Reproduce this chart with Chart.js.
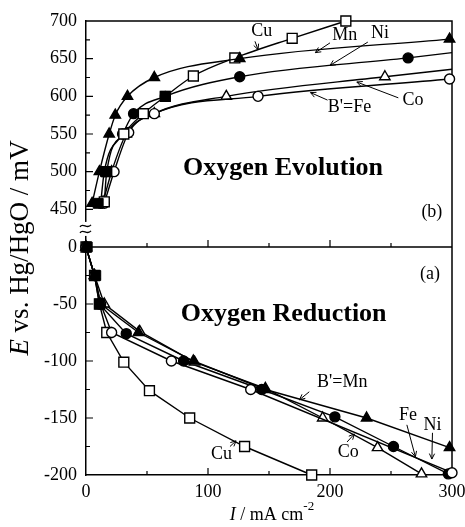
<!DOCTYPE html>
<html>
<head>
<meta charset="utf-8">
<script src="https://cdn.jsdelivr.net/npm/chart.js@4/dist/chart.umd.min.js"></script>
<style>
  html, body { margin: 0; padding: 0; background: #fff; }
  #wrap { width: 465px; height: 527px; }
</style>
</head>
<body>
<div id="wrap"><canvas id="chart" width="465" height="527"></canvas></div>
<script>
// values: current density I (mA cm-2) against E (mV vs Hg/HgO)
var xTicks = [0, 100, 200, 300];
var evoTicks = [450, 500, 550, 600, 650, 700];
var redTicks = [0, -50, -100, -150, -200];

// (b) oxygen evolution
var evoMnI = [5, 11, 19, 24, 34, 56, 126, 298];
var evoMnE = [458, 500, 550, 575, 600, 625, 650, 676];
var evoCuI = [15, 17, 31, 47, 65, 88, 122, 169, 213];
var evoCuE = [460, 500, 550, 577, 600, 627, 651, 677, 700];
var evoNiI = [12, 15, 30, 39, 65, 126, 264, 300];
var evoNiE = [458, 500, 550, 577, 600, 626, 651, 658];
var evoFeI = [15, 23, 35, 56, 141, 298];
var evoFeE = [458, 500, 552, 577, 600, 623];
var evoCoI = [14, 21, 33, 56, 115, 245, 300];
var evoCoE = [460, 500, 550, 577, 600, 626, 636];
var evoSqI = [10, 16, 65];
var evoSqE = [458, 500, 600];

// (a) oxygen reduction
var redMnI = [0, 7, 12, 43, 88, 147, 230, 298];
var redMnE = [0, -25, -50, -75, -100, -125, -150, -176];
var redFeI = [0, 7, 12, 21, 70, 135, 300];
var redFeE = [0, -25, -50, -75, -100, -125, -198];
var redCoI = [0, 7, 15, 44, 89, 147, 194, 239, 275];
var redCoE = [0, -25, -50, -74, -101, -124, -150, -176, -199];
var redNiI = [0, 7, 11, 33, 80, 144, 204, 252, 297];
var redNiE = [0, -25, -50, -76, -100, -125, -149, -175, -199];
var redCuI = [0, 7, 11, 17, 31, 52, 85, 130, 185];
var redCuE = [0, -25, -50, -75, -101, -126, -150, -175, -200];
var redSqI = [1, 8, 11];
var redSqE = [0, -25, -50];

var SERIF = '"Liberation Serif", "Times New Roman", serif';
var markerSize = { circle: 5, triangle: 6, rect: 7 };

function pts(xs, ys) {
  return xs.map(function (v, i) { return { x: v, y: ys[i] }; });
}

function series(label, xs, ys, axis, style, filled, smooth, hideLast) {
  var r = markerSize[style];
  return {
    label: label,
    data: pts(xs, ys),
    yAxisID: axis,
    borderColor: '#000',
    borderWidth: 1.4,
    pointStyle: style,
    pointRadius: xs.map(function (v, i) { return hideLast && i === xs.length - 1 ? 0 : r; }),
    pointBackgroundColor: filled ? '#000' : '#fff',
    pointBorderColor: '#000',
    pointBorderWidth: 1.4,
    cubicInterpolationMode: smooth ? 'monotone' : 'default',
    tension: 0,
    clip: false,
    order: 2
  };
}

function squares(label, xs, ys, axis) {
  return {
    label: label, data: pts(xs, ys), yAxisID: axis, showLine: false,
    pointStyle: 'rect', pointRadius: 7, pointBackgroundColor: '#000',
    pointBorderColor: '#000', pointBorderWidth: 1, clip: false, order: 0
  };
}

var datasets = [
  series('Mn', evoMnI, evoMnE, 'yHigh', 'triangle', true, true),
  series('Cu', evoCuI, evoCuE, 'yHigh', 'rect', false, true),
  series('Ni', evoNiI, evoNiE, 'yHigh', 'circle', true, true, true),
  series('Fe', evoFeI, evoFeE, 'yHigh', 'circle', false, true),
  series('Co', evoCoI, evoCoE, 'yHigh', 'triangle', false, true, true),
  squares('sq', evoSqI, evoSqE, 'yHigh'),
  series('Mn', redMnI, redMnE, 'yLow', 'triangle', true, false),
  series('Fe', redFeI, redFeE, 'yLow', 'circle', false, false),
  series('Co', redCoI, redCoE, 'yLow', 'triangle', false, false),
  series('Ni', redNiI, redNiE, 'yLow', 'circle', true, false),
  series('Cu', redCuI, redCuE, 'yLow', 'rect', false, false),
  squares('sq', redSqI, redSqE, 'yLow')
];

// curve labels, placed in data units: label centre, arrow tail, arrow head
var evoNotes = [
  { text: 'Cu', at: [144, 687], tail: [138.5, 673], head: [141, 662] },
  { text: 'Mn', at: [212, 681], tail: [200, 671], head: [188, 658] },
  { text: 'Ni', at: [241, 684], tail: [231, 672], head: [200, 641] },
  { text: "B'=Fe", at: [216, 586], tail: [198, 595], head: [184, 605] },
  { text: 'Co', at: [268, 595], tail: [256, 598], head: [222, 619] }
];
var redNotes = [
  { text: "B'=Mn", at: [210, -119], tail: [183, -127], head: [175, -134] },
  { text: 'Fe', at: [264, -148], tail: [263, -156], head: [270, -184] },
  { text: 'Ni', at: [284, -156], tail: [284, -163], head: [283.5, -186] },
  { text: 'Co', at: [215, -180], tail: [214, -171], head: [220, -164] },
  { text: 'Cu', at: [111, -182], tail: [118, -175], head: [123, -170] }
];

function arrow(ctx, x1, y1, x2, y2) {
  var ang = Math.atan2(y2 - y1, x2 - x1), h = 6;
  ctx.beginPath();
  ctx.moveTo(x1, y1); ctx.lineTo(x2, y2);
  ctx.moveTo(x2 - h * Math.cos(ang - 0.45), y2 - h * Math.sin(ang - 0.45));
  ctx.lineTo(x2, y2);
  ctx.lineTo(x2 - h * Math.cos(ang + 0.45), y2 - h * Math.sin(ang + 0.45));
  ctx.stroke();
}

// draws mixed-style text runs centred on (0, 0)
function runs(ctx, parts) {
  var total = 0;
  parts.forEach(function (p) { ctx.font = p.font; p.w = ctx.measureText(p.t).width; total += p.w; });
  var x = -total / 2;
  parts.forEach(function (p) {
    ctx.font = p.font;
    ctx.fillText(p.t, x, p.dy || 0);
    x += p.w;
  });
}

var decor = {
  id: 'decor',
  beforeDatasetsDraw: function (chart) {
    var ctx = chart.ctx, a = chart.chartArea, s = chart.scales;
    var y0 = s.yLow.getPixelForValue(0);
    ctx.save();
    ctx.strokeStyle = '#000';
    ctx.lineWidth = 1.5;
    ctx.beginPath();
    ctx.moveTo(a.left, a.top); ctx.lineTo(a.right, a.top); ctx.lineTo(a.right, a.bottom);
    ctx.moveTo(a.left, y0); ctx.lineTo(a.right, y0);
    ctx.stroke();

    // inward tick marks, major and minor
    ctx.lineWidth = 1.2;
    ctx.beginPath();
    var v, p, len;
    for (v = 50; v < 300; v += 50) {
      p = s.x.getPixelForValue(v); len = v % 100 ? 4 : 7;
      ctx.moveTo(p, a.bottom); ctx.lineTo(p, a.bottom - len);
      ctx.moveTo(p, y0); ctx.lineTo(p, y0 - len);
    }
    for (v = 450; v < 700; v += 25) {
      p = s.yHigh.getPixelForValue(v); len = v % 50 ? 4 : 7;
      ctx.moveTo(a.left, p); ctx.lineTo(a.left + len, p);
    }
    for (v = -175; v < 0; v += 25) {
      p = s.yLow.getPixelForValue(v); len = v % 50 ? 4 : 7;
      ctx.moveTo(a.left, p); ctx.lineTo(a.left + len, p);
    }
    ctx.stroke();

    // axis break between the two panels
    var yb = s.yHigh.getPixelForValue(424);
    ctx.fillStyle = '#fff';
    ctx.fillRect(a.left - 3, yb - 7, 6, 14);
    ctx.lineWidth = 1.3;
    ctx.beginPath();
    [-3, 3].forEach(function (d) {
      ctx.moveTo(a.left - 6, yb + d + 1);
      ctx.bezierCurveTo(a.left - 3, yb + d - 4, a.left + 1, yb + d + 4, a.left + 5, yb + d - 1);
    });
    ctx.stroke();
    ctx.restore();
  },
  afterDraw: function (chart) {
    var ctx = chart.ctx, a = chart.chartArea, s = chart.scales;
    ctx.save();
    ctx.fillStyle = '#000';
    ctx.strokeStyle = '#000';
    ctx.lineWidth = 1;
    ctx.textAlign = 'center';
    ctx.textBaseline = 'middle';

    function notes(list, ax) {
      list.forEach(function (n) {
        ctx.font = '18px ' + SERIF;
        ctx.fillText(n.text, s.x.getPixelForValue(n.at[0]), ax.getPixelForValue(n.at[1]));
        arrow(ctx, s.x.getPixelForValue(n.tail[0]), ax.getPixelForValue(n.tail[1]),
          s.x.getPixelForValue(n.head[0]), ax.getPixelForValue(n.head[1]));
      });
    }
    notes(evoNotes, s.yHigh);
    notes(redNotes, s.yLow);

    ctx.font = 'bold 26px ' + SERIF;
    ctx.fillText('Oxygen Evolution', s.x.getPixelForValue(161.5), s.yHigh.getPixelForValue(505));
    ctx.fillText('Oxygen Reduction', s.x.getPixelForValue(162), s.yLow.getPixelForValue(-59));
    ctx.font = '18px ' + SERIF;
    ctx.fillText('(b)', s.x.getPixelForValue(283.5), s.yHigh.getPixelForValue(446));
    ctx.fillText('(a)', s.x.getPixelForValue(282), s.yLow.getPixelForValue(-24));

    // axis titles
    ctx.textAlign = 'left';
    ctx.save();
    ctx.translate((a.left + a.right) / 2 + 3, 515);
    runs(ctx, [
      { t: 'I', font: 'italic 18px ' + SERIF },
      { t: ' / mA cm', font: '18px ' + SERIF },
      { t: '-2', font: '13px ' + SERIF, dy: -8 }
    ]);
    ctx.restore();
    ctx.save();
    ctx.translate(21, (a.top + a.bottom) / 2);
    ctx.rotate(-Math.PI / 2);
    runs(ctx, [
      { t: 'E', font: 'italic 27px ' + SERIF },
      { t: ' vs. Hg/HgO / mV', font: '27px ' + SERIF }
    ]);
    ctx.restore();
    ctx.restore();
  }
};

function fixedTicks(list) {
  return function (scale) { scale.ticks = list.map(function (v) { return { value: v }; }); };
}

var tickFont = { family: SERIF, size: 18 };

var yAxis = function (min, max, list, weight) {
  return {
    type: 'linear', position: 'left', stack: 'potential', stackWeight: weight,
    min: min, max: max,
    afterBuildTicks: fixedTicks(list),
    afterFit: function (s) { s.width = 86; s.paddingTop = 0; s.paddingBottom = 0; },
    grid: { display: false, drawTicks: false },
    border: { display: true, color: '#000', width: 1.5 },
    ticks: { font: tickFont, color: '#000', padding: 9 }
  };
};

new Chart(document.getElementById('chart'), {
  type: 'line',
  data: { datasets: datasets },
  plugins: [decor],
  options: {
    responsive: false,
    animation: false,
    devicePixelRatio: 1,
    layout: { padding: { left: 0, right: 13, top: 21, bottom: 0 } },
    plugins: { legend: { display: false }, tooltip: { enabled: false } },
    scales: {
      x: {
        type: 'linear', min: 0, max: 300,
        afterBuildTicks: fixedTicks(xTicks),
        afterFit: function (s) { s.height = 52; s.paddingLeft = 0; s.paddingRight = 0; },
        grid: { display: false, drawTicks: false },
        border: { display: true, color: '#000', width: 1.5 },
        ticks: { font: tickFont, color: '#000', padding: 6, maxRotation: 0 }
      },
      yLow: yAxis(-200, 0, redTicks, 228),
      yHigh: yAxis(400, 700, evoTicks, 226)
    }
  }
});
</script>
</body>
</html>
